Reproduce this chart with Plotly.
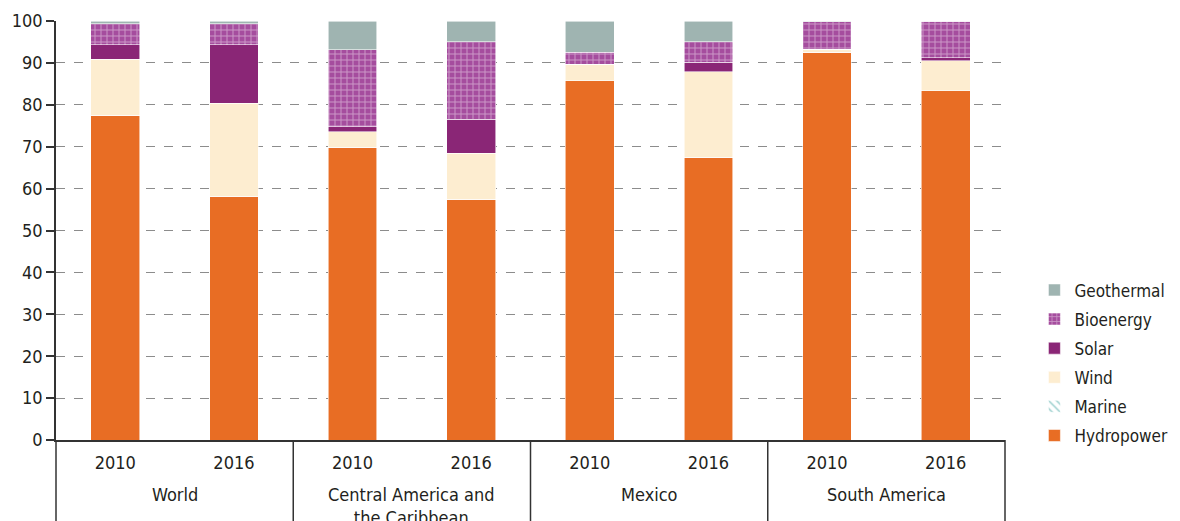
import plotly.graph_objects as go

regions = ["World", "Central America and<br>the Caribbean", "Mexico", "South America"]
years = ["2010", "2016"]

# shares in percent, order per bar: World 2010, World 2016, CA 2010, CA 2016, MX 2010, MX 2016, SA 2010, SA 2016
hydropower = [77.5, 58.2, 69.9, 57.5, 85.8, 67.5, 92.6, 83.3]
marine = [0.0, 0.0, 0.0, 0.0, 0.0, 0.0, 0.0, 0.0]
wind = [13.4, 22.2, 3.7, 10.9, 3.9, 20.4, 0.7, 7.2]
solar = [3.4, 13.9, 1.2, 8.1, 0.0, 2.2, 0.0, 0.7]
bioenergy = [5.1, 5.1, 18.3, 18.6, 2.9, 5.0, 6.5, 8.7]
geothermal = [0.6, 0.6, 6.9, 4.9, 7.4, 4.9, 0.2, 0.1]

FONT = "DejaVu Sans Condensed, Roboto, sans-serif"
INK = "#231f20"

xs = list(range(len(regions) * len(years)))
tick_text = [y for _ in regions for y in years]

series = [
    ("Hydropower", hydropower, dict(color="#e86d24")),
    ("Marine", marine, dict(color="white", pattern=dict(shape="\\", fgcolor="#2a9a96", bgcolor="white", size=7, solidity=0.25))),
    ("Wind", wind, dict(color="#fdedd0")),
    ("Solar", solar, dict(color="#8a2676")),
    ("Bioenergy", bioenergy, dict(color="#a54d9e", pattern=dict(shape="+", fgcolor="#f3e3f0", bgcolor="#a54d9e", size=6, solidity=0.3))),
    ("Geothermal", geothermal, dict(color="#9fb4b1")),
]

fig = go.Figure()
for k, (name, vals, marker) in enumerate(series):
    marker = dict(marker)
    marker["line"] = dict(color="rgba(255,255,255,0.7)", width=0.8)
    fig.add_trace(go.Bar(x=xs, y=vals, name=name, marker=marker, width=0.41,
                         legendgroup=name, legendrank=len(series) - k))

# group dividers below the axis
n = len(regions)
for i in range(n + 1):
    fig.add_shape(type="line", xref="paper", yref="paper", x0=i / n, x1=i / n,
                  y0=0, y1=-0.3, line=dict(color="#333333", width=1.5))
for i, r in enumerate(regions):
    fig.add_annotation(x=(i + 0.5) / n, y=-0.1, xref="paper", yref="paper",
                       text=r, showarrow=False, yanchor="top", xanchor="center",
                       font=dict(family=FONT, size=18, color=INK))

# page body has an 8px margin, so margins are shifted to compensate
fig.update_layout(
    barmode="stack",
    width=1180,
    height=521,
    margin=dict(l=48, r=183, t=13, b=89, autoexpand=False),
    paper_bgcolor="white",
    plot_bgcolor="white",
    font=dict(family=FONT, size=18, color=INK),
    legend=dict(x=1.031, y=-0.032, yanchor="bottom", xanchor="left",
                font=dict(size=17), traceorder="grouped", tracegroupgap=4),
    xaxis=dict(tickvals=xs, ticktext=tick_text, range=[-0.5, len(xs) - 0.5],
               showline=True, linecolor="#333333", linewidth=1.5, ticks="",
               showgrid=False, tickfont=dict(size=18), ticklabelstandoff=6, automargin=False),
    yaxis=dict(range=[0, 100], dtick=10, showline=True, linecolor="#333333", linewidth=1.5,
               ticks="outside", ticklen=8, tickcolor="#333333", tickwidth=1.5,
               showgrid=True, gridcolor="#8c8c8c", griddash="dash", gridwidth=1,
               tickfont=dict(size=18), zeroline=False, automargin=False),
)

fig.write_html("out.html")
